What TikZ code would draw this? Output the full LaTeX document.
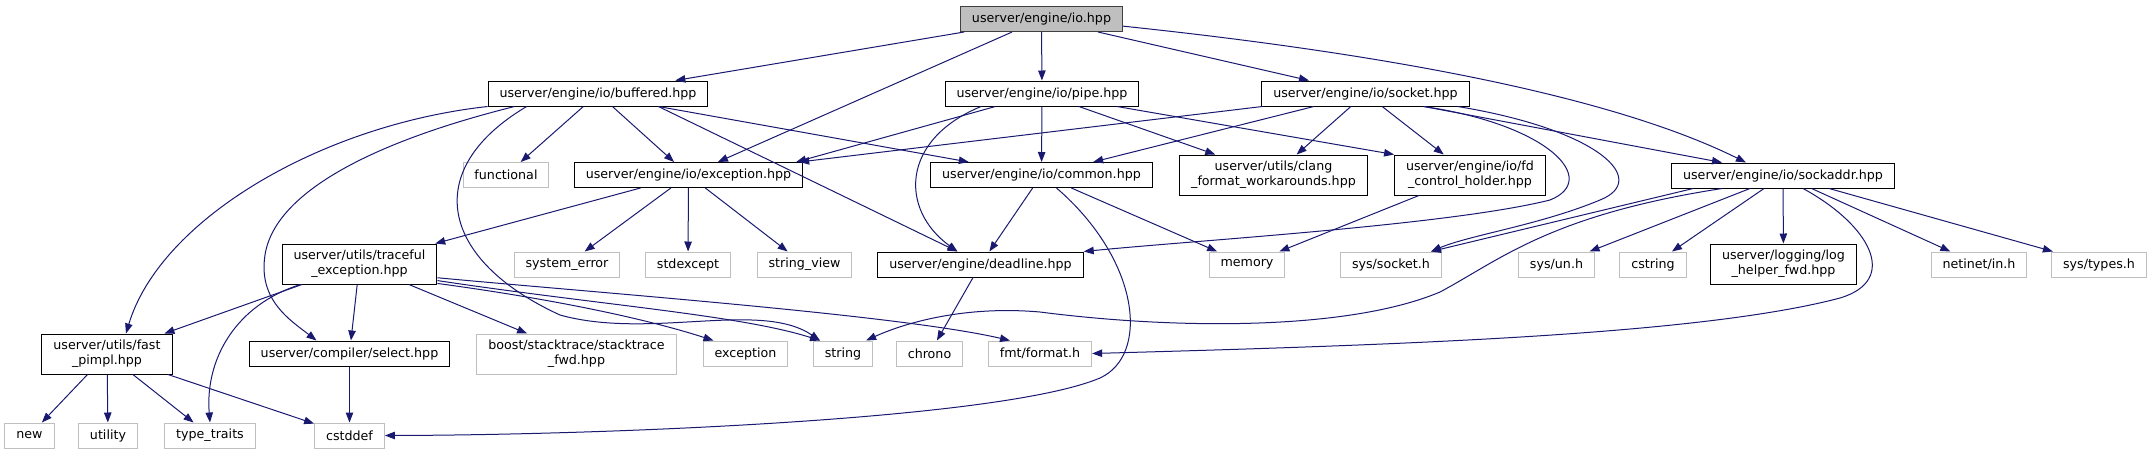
\documentclass[tikz,border=0pt]{standalone}
\usepackage{fontspec}
\setmainfont{DejaVu Sans}
\usepackage{xcolor}
\usetikzlibrary{arrows.meta, calc}
\definecolor{edgeblue}{RGB}{25, 25, 112}
\definecolor{sysgray}{RGB}{191, 191, 191}
\definecolor{rootgray}{RGB}{191, 191, 191}

\tikzset{
    incl/.style={draw=black, fill=white, line width=0.75pt, inner xsep=8.6pt, inner ysep=0pt,
        minimum height=18.75pt, align=center, font=\fontsize{9.5}{11.25}\selectfont},
    sys/.style={incl, draw=sysgray},
    root/.style={incl, fill=rootgray, draw=black!75},
    twoline/.style={minimum height=30pt},
    dep/.style={draw=edgeblue, line width=0.75pt, -{Triangle[length=7.5pt, width=5.6pt]}}
}

\begin{document}
\begin{tikzpicture}[x=0.75pt, y=-0.75pt]
    \useasboundingbox (0,0) rectangle (2153,455);

    % Top file
    \node[root] (io) at (1041.5,19) {userver/engine/io.hpp};

    % Direct includes
    \node[incl] (buffered) at (598,93.5) {userver/engine/io/buffered.hpp};
    \node[incl] (pipe) at (1042,93.5) {userver/engine/io/pipe.hpp};
    \node[incl] (socket) at (1365.5,93.5) {userver/engine/io/socket.hpp};

    % Third row
    \node[sys] (functional) at (506,175) {functional};
    \node[incl] (exc) at (688.5,175) {userver/engine/io/exception.hpp};
    \node[incl] (common) at (1041.5,175) {userver/engine/io/common.hpp};
    \node[incl, twoline] (clang) at (1273.5,175) {userver/utils/clang\\\_format\_workarounds.hpp};
    \node[incl, twoline] (fdholder) at (1470,175) {userver/engine/io/fd\\\_control\_holder.hpp};
    \node[incl] (sockaddr) at (1783,175.5) {userver/engine/io/sockaddr.hpp};

    % Fourth row
    \node[incl, twoline] (traceful) at (359.5,264) {userver/utils/traceful\\\_exception.hpp};
    \node[sys] (syserror) at (567,264.5) {system\_error};
    \node[sys] (stdexcept) at (688,264.5) {stdexcept};
    \node[sys] (strview) at (804.5,264.5) {string\_view};
    \node[incl] (deadline) at (980.5,264.5) {userver/engine/deadline.hpp};
    \node[sys] (memory) at (1247,264.5) {memory};
    \node[sys] (syssocket) at (1391,264.5) {sys/socket.h};
    \node[sys] (sysun) at (1556.5,264.5) {sys/un.h};
    \node[sys] (cstring) at (1653,264.5) {cstring};
    \node[incl, twoline] (loghelper) at (1783.5,264) {userver/logging/log\\\_helper\_fwd.hpp};
    \node[sys] (netinet) at (1979,264.5) {netinet/in.h};
    \node[sys] (systypes) at (2099,264.5) {sys/types.h};

    % Fifth row
    \node[incl, twoline] (fastpimpl) at (107,354) {userver/utils/fast\\\_pimpl.hpp};
    \node[incl] (select) at (349.5,353.5) {userver/compiler/select.hpp};
    \node[sys, twoline] (boost) at (576.5,354) {boost/stacktrace/stacktrace\\\_fwd.hpp};
    \node[sys] (exception) at (745.5,353.5) {exception};
    \node[sys] (string) at (843,353.5) {string};
    \node[sys] (chrono) at (929.5,353.5) {chrono};
    \node[sys] (fmt) at (1040,353.5) {fmt/format.h};

    % Bottom row
    \node[sys] (new) at (29.5,435.5) {new};
    \node[sys] (utility) at (108,435.5) {utility};
    \node[sys] (typetraits) at (210,435.5) {type\_traits};
    \node[sys] (cstddef) at (349.5,435.5) {cstddef};

    % io.hpp
    \draw[dep] (io) -- (buffered);
    \draw[dep] (io) -- (exc);
    \draw[dep] (io) -- (pipe);
    \draw[dep] (io) -- (socket);
    \draw[dep] (io.-5) .. controls (1350,50) and (1600,90) .. ($(sockaddr.north)+(-37,0)$);

    % buffered.hpp
    \draw[dep] (buffered.south west) .. controls (320,125) and (160,220) .. ($(fastpimpl.north)+(19,0)$);
    \draw[dep] ($(buffered.south west)+(27,0)$) .. controls (380,140) and (275,190) .. (265,255)
        .. controls (258,300) and (290,320) .. ($(select.north)+(-33,0)$);
    \draw[dep] ($(buffered.south west)+(39,0)$) .. controls (420,170) and (440,260) .. (560,315)
        .. controls (650,340) and (760,300) .. ($(string.north)+(-23,0)$);
    \draw[dep] (buffered) -- (functional);
    \draw[dep] (buffered) -- (exc);
    \draw[dep] ($(buffered.south east)+(-50,0)$) -- (common);
    \draw[dep] ($(buffered.south east)+(-50,0)$) -- ($(deadline.north)+(-23,0)$);

    % pipe.hpp
    \draw[dep] (pipe) -- ($(exc.north east)+(-7,0)$);
    \draw[dep] ($(pipe.south)+(-61,0)$) .. controls (900,140) and (900,210) .. ($(deadline.north)+(-23,0)$);
    \draw[dep] (pipe) -- (common);
    \draw[dep] (pipe) -- (clang);
    \draw[dep] (pipe) -- (fdholder.north west);

    % socket.hpp
    \draw[dep] ($(socket.south west)+(1,0)$) -- ($(exc.north east)+(-4,0)$);
    \draw[dep] (socket) -- (common);
    \draw[dep] (socket) -- (clang);
    \draw[dep] (socket) -- (fdholder);
    \draw[dep] ($(socket.south east)+(-46,0)$) -- ($(sockaddr.north)+(-61,0)$);
    \draw[dep] ($(socket.south east)+(-46,0)$) .. controls (1550,125) and (1600,180) .. (1550,200)
        .. controls (1450,225) and (1200,240) .. (deadline.north east);
    \draw[dep] ($(socket.south east)+(-12,0)$) .. controls (1600,130) and (1650,180) .. (1600,200)
        .. controls (1540,225) and (1470,235) .. ($(syssocket.north east)+(-11,0)$);

    % exception.hpp
    \draw[dep] (exc) -- (traceful);
    \draw[dep] (exc) -- (syserror);
    \draw[dep] (exc) -- (stdexcept);
    \draw[dep] (exc) -- (strview);

    % common.hpp and fd_control_holder.hpp
    \draw[dep] (common) -- (deadline);
    \draw[dep] (common) -- (memory);
    \draw[dep] ($(common.south)+(15,0)$) .. controls (1140,260) and (1150,355) .. (1100,378)
        .. controls (1000,420) and (600,435) .. (cstddef.east);
    \draw[dep] (fdholder) -- (memory);

    % sockaddr.hpp
    \draw[dep] ($(sockaddr.south west)+(22,0)$) -- ($(syssocket.north east)+(-11,0)$);
    \draw[dep] ($(sockaddr.south west)+(51,0)$) .. controls (1550,215) and (1500,260) .. (1440,292)
        .. controls (1350,330) and (1180,330) .. (1040,312)
        .. controls (960,305) and (900,325) .. ($(string.north east)+(-7,0)$);
    \draw[dep] (sockaddr) -- (sysun);
    \draw[dep] (sockaddr) -- (cstring);
    \draw[dep] (sockaddr) -- (loghelper);
    \draw[dep] ($(sockaddr.south)+(20,0)$) .. controls (1870,225) and (1900,280) .. (1840,298)
        .. controls (1700,335) and (1400,345) .. (fmt.east);
    \draw[dep] (sockaddr) -- (netinet);
    \draw[dep] (sockaddr) -- (systypes);

    % traceful_exception.hpp
    \draw[dep] (traceful) -- (fastpimpl);
    \draw[dep] ($(traceful.south west)+(19,0)$) .. controls (235,305) and (205,360) .. (typetraits.north);
    \draw[dep] (traceful) -- (select);
    \draw[dep] (traceful) -- (boost);
    \draw[dep] (traceful.-14) .. controls (560,300) and (650,320) .. ($(exception.north)+(-32,0)$);
    \draw[dep] (traceful.-12) .. controls (600,305) and (740,315) .. ($(string.north)+(-23,0)$);
    \draw[dep] (traceful.-10) .. controls (600,293) and (900,315) .. ($(fmt.north)+(-30,0)$);

    % deadline.hpp, select.hpp, fast_pimpl.hpp
    \draw[dep] (deadline) -- (chrono);
    \draw[dep] (select) -- (cstddef);
    \draw[dep] (fastpimpl) -- (new);
    \draw[dep] (fastpimpl) -- (utility);
    \draw[dep] (fastpimpl) -- (typetraits);
    \draw[dep] (fastpimpl) -- (cstddef);
\end{tikzpicture}
\end{document}
